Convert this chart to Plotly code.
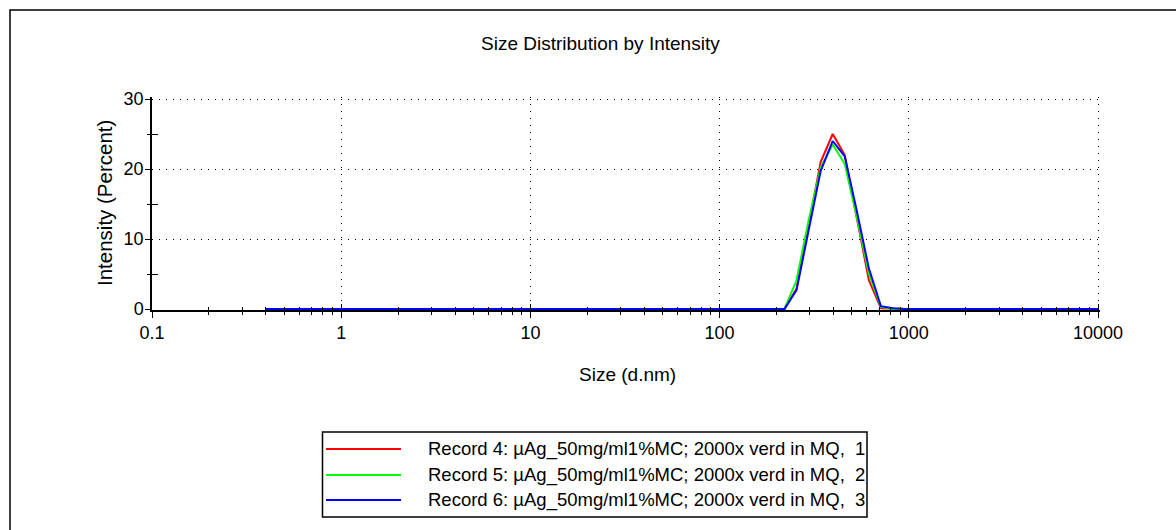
import plotly.graph_objects as go

# ---------------- data ----------------
sizes_nm = [0.4, 0.4632, 0.5365, 0.6213, 0.7195, 0.8332, 0.9649, 1.117, 1.294, 1.499,
            1.736, 2.01, 2.328, 2.696, 3.122, 3.615, 4.187, 4.849, 5.615, 6.503,
            7.531, 8.721, 10.1, 11.7, 13.54, 15.69, 18.17, 21.04, 24.36, 28.21,
            32.67, 37.84, 43.82, 50.75, 58.77, 68.06, 78.82, 91.28, 105.7, 122.4,
            141.8, 164.2, 190.1, 220.2, 255.0, 295.3, 342.0, 396.1, 458.7, 531.2,
            615.1, 712.4, 825.0, 955.4, 1106, 1281, 1484, 1718, 1990, 2305,
            2669, 3091, 3580, 4145, 4801, 5560, 6439, 7456, 8635, 10000]

record4 = [0, 0, 0, 0, 0, 0, 0, 0, 0, 0,
           0, 0, 0, 0, 0, 0, 0, 0, 0, 0,
           0, 0, 0, 0, 0, 0, 0, 0, 0, 0,
           0, 0, 0, 0, 0, 0, 0, 0, 0, 0,
           0, 0, 0, 0, 2.9, 12.2, 21.0, 25.0, 22.0, 13.0,
           4.1, 0.1, 0, 0, 0, 0, 0, 0, 0, 0,
           0, 0, 0, 0, 0, 0, 0, 0, 0, 0]

record5 = [0, 0, 0, 0, 0, 0, 0, 0, 0, 0,
           0, 0, 0, 0, 0, 0, 0, 0, 0, 0,
           0, 0, 0, 0, 0, 0, 0, 0, 0, 0,
           0, 0, 0, 0, 0, 0, 0, 0, 0, 0,
           0, 0, 0, 0, 4.1, 12.6, 20.2, 23.5, 20.7, 13.1,
           5.0, 0.3, 0, 0, 0, 0, 0, 0, 0, 0,
           0, 0, 0, 0, 0, 0, 0, 0, 0, 0]

record6 = [0, 0, 0, 0, 0, 0, 0, 0, 0, 0,
           0, 0, 0, 0, 0, 0, 0, 0, 0, 0,
           0, 0, 0, 0, 0, 0, 0, 0, 0, 0,
           0, 0, 0, 0, 0, 0, 0, 0, 0, 0,
           0, 0, 0, 0, 2.7, 11.4, 19.7, 24.0, 21.8, 14.0,
           5.8, 0.4, 0.1, 0, 0, 0, 0, 0, 0, 0,
           0, 0, 0, 0, 0, 0, 0, 0, 0, 0]

series_names = ["Record 4: µAg_50mg/ml1%MC; 2000x verd in MQ,  1",
                "Record 5: µAg_50mg/ml1%MC; 2000x verd in MQ,  2",
                "Record 6: µAg_50mg/ml1%MC; 2000x verd in MQ,  3"]
series_values = [record4, record5, record6]
series_colors = ["#ff0000", "#00ff00", "#0000ff"]

x_tick_vals = [0.1, 1, 10, 100, 1000, 10000]
x_tick_text = ["0.1", "1", "10", "100", "1000", "10000"]
y_tick_vals = [0, 10, 20, 30]
y_minor_vals = [5, 15, 25]

title_text = "Size Distribution by Intensity"
x_title = "Size (d.nm)"
y_title = "Intensity (Percent)"

# ---------------- layout geometry (pixels) ----------------
W, H = 1176, 530
L, R, T, B = 152, 1100, 97, 310          # plot area edges (slightly padded)
PX_PER_DECADE = 189.2
PX_PER_UNIT = 7.0
FONT = "Liberation Sans, Arial, sans-serif"
X_RANGE = [-1, -1 + (R - L) / PX_PER_DECADE]
Y_RANGE = [-(B - 309) / PX_PER_UNIT, 30 + (99 - T) / PX_PER_UNIT]


def xp(px):
    return (px - L) / (R - L)


def yp(py):
    return (B - py) / (B - T)


fig = go.Figure()
for name, vals, col in zip(series_names, series_values, series_colors):
    fig.add_trace(go.Scatter(x=sizes_nm, y=vals, mode="lines", name=name,
                             line=dict(color=col, width=2), showlegend=False))

# secondary axes only for the inward half of the crossing ticks
fig.add_trace(go.Scatter(x=[], y=[], xaxis="x2", yaxis="y2", showlegend=False))

axis_common = dict(showline=True, linecolor="black", linewidth=1.5, zeroline=False,
                   tickcolor="black", tickwidth=1.2)

fig.update_layout(
    width=W, height=H,
    margin=dict(l=L, r=W - R, t=T, b=H - B),
    paper_bgcolor="white", plot_bgcolor="white",
    font=dict(family=FONT, size=18, color="black"),
    xaxis=dict(type="log", range=X_RANGE, tickvals=x_tick_vals, ticktext=x_tick_text,
               ticks="outside", ticklen=6,
               minor=dict(ticks="outside", ticklen=3, tickcolor="black", tickwidth=1.2,
                          dtick="D1", showgrid=False),
               showgrid=True, gridcolor="black", gridwidth=1, griddash="1px,6px",
               tickfont=dict(size=18), **axis_common),
    yaxis=dict(range=Y_RANGE, tickvals=y_tick_vals, ticks="outside", ticklen=5,
               ticklabelstandoff=-2,
               minor=dict(ticks="outside", ticklen=3, tickcolor="black", tickwidth=1.2,
                          tickvals=y_minor_vals, showgrid=False),
               showgrid=True, gridcolor="black", gridwidth=1, griddash="1px,6px",
               tickfont=dict(size=18), **axis_common),
    xaxis2=dict(type="log", range=X_RANGE, overlaying="x", showline=False, showgrid=False,
                zeroline=False, showticklabels=False, tickvals=x_tick_vals,
                ticks="inside", ticklen=6, tickcolor="black", tickwidth=1.2,
                minor=dict(ticks="inside", ticklen=3, tickcolor="black", tickwidth=1.2,
                           dtick="D1", showgrid=False)),
    yaxis2=dict(range=Y_RANGE, overlaying="y", showline=False, showgrid=False,
                zeroline=False, showticklabels=False, tickvals=[],
                ticks="inside", ticklen=6, tickcolor="black", tickwidth=1.2,
                minor=dict(ticks="inside", ticklen=6, tickcolor="black", tickwidth=1.2,
                           tickvals=y_minor_vals, showgrid=False)),
)

shapes = []
annotations = []

# outer frame (only left/top visible in reference)
shapes.append(dict(type="rect", xref="paper", yref="paper",
                   x0=xp(10), x1=xp(1300), y0=yp(10), y1=yp(700),
                   line=dict(color="black", width=1.5), layer="below"))

# titles
annotations.append(dict(text=title_text, xref="paper", yref="paper", x=xp(600), y=yp(44),
                        xanchor="center", yanchor="middle", showarrow=False,
                        font=dict(size=19, family=FONT, color="black")))
annotations.append(dict(text=x_title, xref="paper", yref="paper", x=xp(627), y=yp(374),
                        xanchor="center", yanchor="middle", showarrow=False,
                        font=dict(size=19, family=FONT, color="black")))
annotations.append(dict(text=y_title, xref="paper", yref="paper", x=xp(104.5), y=yp(203.5),
                        xanchor="center", yanchor="middle", showarrow=False, textangle=-90,
                        font=dict(size=20.5, family=FONT, color="black")))

# legend box drawn by hand
leg_rows = [449, 475, 500]
shapes.append(dict(type="rect", xref="paper", yref="paper",
                   x0=xp(322.5), x1=xp(867), y0=yp(432), y1=yp(517),
                   line=dict(color="black", width=1.5), fillcolor="white"))
for row, name, col in zip(leg_rows, series_names, series_colors):
    shapes.append(dict(type="line", xref="paper", yref="paper",
                       x0=xp(326), x1=xp(401), y0=yp(row), y1=yp(row),
                       line=dict(color=col, width=2)))
    annotations.append(dict(text=name, xref="paper", yref="paper", x=xp(426), y=yp(row),
                            xanchor="left", yanchor="middle", showarrow=False,
                            font=dict(size=18.5, family=FONT, color="black")))

fig.update_layout(shapes=shapes, annotations=annotations)

fig.write_html("out.html")
